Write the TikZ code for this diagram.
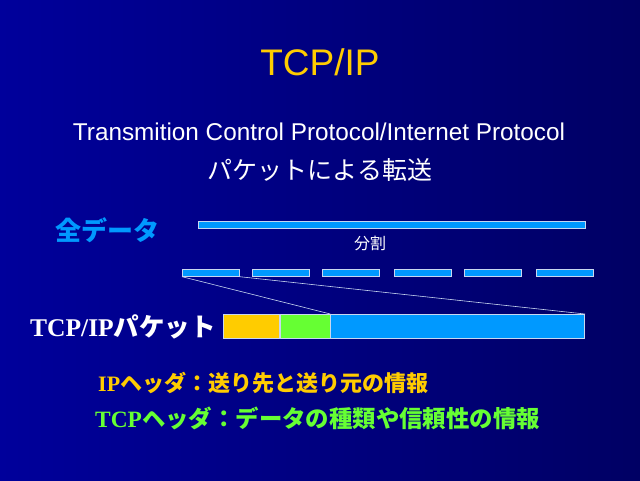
\documentclass[tikz,border=0pt]{standalone}
\usepackage{fontspec}
\setmainfont{Liberation Sans}
\newfontfamily\jpfont{Noto Sans CJK JP}
\newfontfamily\latinb{Liberation Serif}
\usepackage{xcolor}
\usetikzlibrary{positioning}

\definecolor{bgleft}{RGB}{0,0,155}
\definecolor{bgright}{RGB}{0,0,100}
\definecolor{titleyellow}{RGB}{255,204,0}
\definecolor{datablue}{RGB}{0,153,255}
\definecolor{tcpgreen}{RGB}{102,255,51}
\definecolor{barline}{RGB}{200,215,240}

\tikzset{
  databar/.style={draw=barline, fill=datablue, line width=0.7pt, inner sep=0pt, minimum height=7pt},
  seg/.style={databar, minimum width=57pt},
  hdr/.style={draw=barline, line width=0.7pt, inner sep=0pt, minimum height=24pt},
  lbl/.style={inner sep=0pt, font=\jpfont\bfseries},
}

\begin{document}
\begin{tikzpicture}[x=1pt,y=-1pt]

\useasboundingbox (0,0) rectangle (640,480);
\shade[left color=bgleft, right color=bgright] (0,0) rectangle (640,480);

% titles
\node[inner sep=0pt, text=titleyellow, font=\fontsize{37}{40}\selectfont] (title) at (320,62) {TCP/IP};
\node[inner sep=0pt, text=white, font=\fontsize{24.3}{26}\selectfont] (subtitle) at (319,132) {Transmition Control Protocol/Internet Protocol};
\node[lbl, text=white, font=\jpfont\fontsize{25}{27}\selectfont] (transfer) at (320,170) {パケットによる転送};

% whole data
\node[lbl, text=datablue, font=\jpfont\bfseries\fontsize{26}{28}\selectfont] (alldata) at (107,230) {全データ};
\node[databar, minimum width=387pt] (whole) at (391.5,224.5) {};
\node[lbl, text=white, font=\jpfont\fontsize{16}{18}\selectfont] (split) at (370,243) {分割};

% segments
\foreach \x [count=\i] in {182,252,322,394,464,536}
  \node[seg, anchor=north west] (s\i) at (\x,269) {};

% packet
\node[hdr, fill=titleyellow, minimum width=56pt, anchor=north west] (iph) at (223,314) {};
\node[hdr, fill=tcpgreen, minimum width=50pt, right=0pt of iph] (tcph) {};
\node[hdr, fill=datablue, minimum width=254pt, right=0pt of tcph] (payload) {};
\node[lbl, text=white, anchor=east, font=\fontsize{25.5}{27}\selectfont] (pktlbl) at (216,327) {{\latinb\bfseries TCP/IP}{\jpfont\bfseries パケット}};

\draw[barline, line width=0.6pt] (s1.south west) -- (payload.north west);
\draw[barline, line width=0.6pt] (s1.south east) -- (payload.north east);

% legend
\node[lbl, text=titleyellow, anchor=west, font=\fontsize{22}{24}\selectfont] (iplbl) at (98,383)
  {{\latinb\bfseries IP}{\jpfont\bfseries ヘッダ：送り先と送り元の情報}};
\node[lbl, text=tcpgreen, anchor=west, font=\fontsize{23.4}{25}\selectfont] (tcplbl) at (95,418)
  {{\latinb\bfseries TCP}{\jpfont\bfseries ヘッダ：データの種類や信頼性の情報}};

\end{tikzpicture}
\end{document}
